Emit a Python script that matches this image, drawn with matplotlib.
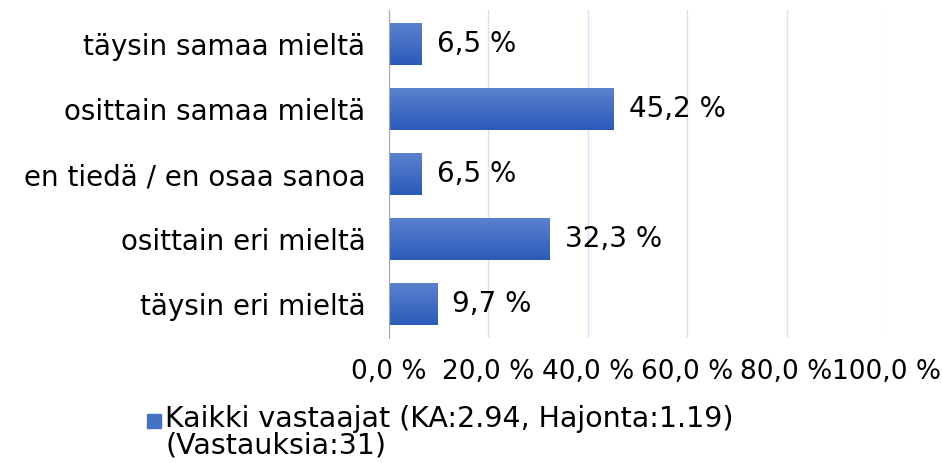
import matplotlib.pyplot as plt
import numpy as np
from matplotlib.colors import LinearSegmentedColormap
from matplotlib.patches import Rectangle

kategoriat = ["täysin samaa mieltä", "osittain samaa mieltä", "en tiedä / en osaa sanoa",
              "osittain eri mieltä", "täysin eri mieltä"]
osuudet = [6.5, 45.2, 6.5, 32.3, 9.7]
x_tikit = [0, 20, 40, 60, 80, 100]
selite = "Kaikki vastaajat (KA:2.94, Hajonta:1.19)\n(Vastauksia:31)"

plt.rcParams['font.family'] = ['DejaVu Sans']

fig = plt.figure(figsize=(9.42, 4.63), dpi=100)
ax = fig.add_axes([389 / 942, 1 - 338 / 463, 497 / 942, 328 / 463])

y = np.arange(len(kategoriat))
palkit = ax.barh(y, osuudet, height=0.65, color="#3f6cc4", zorder=2)

# pystysuuntainen liukuväri palkkeihin (vaaleampi ylhäällä)
liuku = LinearSegmentedColormap.from_list("liuku", ["#5b82cf", "#2b5bb9"])
grad = np.linspace(0, 1, 64).reshape(-1, 1)
for p in palkit:
    x0, y0, w, h = p.get_x(), p.get_y(), p.get_width(), p.get_height()
    im = ax.imshow(grad, cmap=liuku, aspect="auto", extent=(x0, x0 + w, y0 + h, y0),
                   origin="upper", zorder=3)
    im.set_clip_path(p)

for arvo, yy in zip(osuudet, y):
    ax.annotate(f"{arvo:.1f} %".replace(".", ","), xy=(arvo, yy), xytext=(11, 0),
                textcoords="offset points", va="center", ha="left", fontsize=20)

ax.set_xlim(0, 100)
ax.set_ylim(4.52, -0.52)
ax.set_yticks(y)
ax.set_yticklabels(kategoriat, fontsize=20)
ax.set_xticks(x_tikit)
ax.set_xticklabels([f"{t:.1f} %".replace(".", ",") for t in x_tikit], fontsize=19)
ax.tick_params(axis="y", length=0, pad=17)
ax.tick_params(axis="x", length=0, pad=15)

ax.grid(axis="x", color="#d9e1f0", linewidth=1, zorder=0)
ax.set_axisbelow(True)
for s in ["top", "right", "bottom"]:
    ax.spines[s].set_visible(False)
ax.spines["left"].set_color("#a6a6a6")
ax.spines["left"].set_zorder(4)

# selite
fig.add_artist(Rectangle((147 / 942, 1 - 428 / 463), 14 / 942, 14 / 463,
                         transform=fig.transFigure, color="#4472c4"))
fig.text(165 / 942, 1 - 405 / 463, selite, fontsize=20.5, va="top", ha="left",
         linespacing=0.93)

fig.savefig("out.png", dpi=100)
